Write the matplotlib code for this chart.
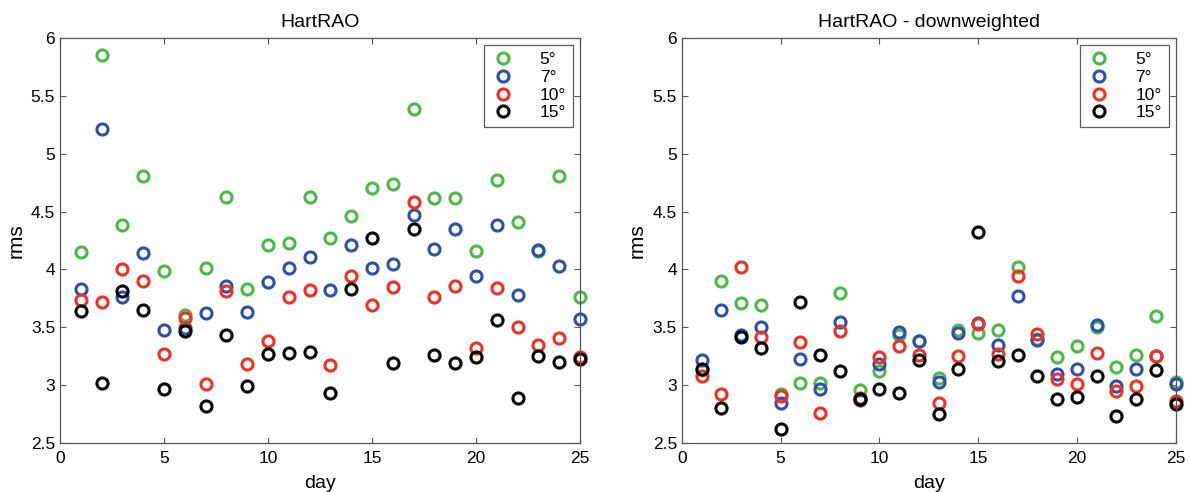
import numpy as np
import matplotlib
matplotlib.use("Agg")
import matplotlib.pyplot as plt
from matplotlib.ticker import FuncFormatter

plt.rcParams['font.family'] = ['Liberation Sans', 'DejaVu Sans']

days = np.arange(1, 26)
labels = ['5°', '7°', '10°', '15°']
colors = ['#4cb848', '#3050a8', '#ee3124', '#000000']

# HartRAO
left_5 = [4.15, 5.85, 4.38, 4.81, 3.99, 3.61, 4.01, 4.63, 3.83, 4.21, 4.23, 4.63, 4.27,
          4.46, 4.70, 4.74, 5.39, 4.62, 4.62, 4.16, 4.77, 4.41, 4.16, 4.81, 3.76]
left_7 = [3.83, 5.21, 3.76, 4.14, 3.48, 3.49, 3.62, 3.86, 3.63, 3.89, 4.01, 4.11, 3.82,
          4.21, 4.01, 4.05, 4.47, 4.18, 4.35, 3.94, 4.38, 3.78, 4.17, 4.03, 3.57]
left_10 = [3.74, 3.72, 4.00, 3.90, 3.27, 3.58, 3.01, 3.81, 3.18, 3.38, 3.76, 3.82, 3.17,
           3.94, 3.69, 3.85, 4.58, 3.76, 3.86, 3.32, 3.84, 3.50, 3.35, 3.41, 3.24]
left_15 = [3.64, 3.02, 3.81, 3.65, 2.97, 3.47, 2.82, 3.43, 2.99, 3.27, 3.28, 3.29, 2.93,
           3.83, 4.27, 3.19, 4.35, 3.26, 3.19, 3.24, 3.56, 2.89, 3.25, 3.20, 3.23]

# HartRAO - downweighted
right_5 = [3.13, 3.90, 3.71, 3.69, 2.92, 3.02, 3.02, 3.80, 2.96, 3.12, 3.43, 3.38, 3.06,
           3.48, 3.45, 3.48, 4.02, 3.40, 3.24, 3.34, 3.50, 3.16, 3.26, 3.60, 3.03]
right_7 = [3.22, 3.65, 3.43, 3.50, 2.85, 3.23, 2.97, 3.55, 2.87, 3.18, 3.46, 3.38, 3.03,
           3.45, 3.54, 3.35, 3.77, 3.39, 3.10, 3.14, 3.52, 2.99, 3.14, 3.25, 3.01]
right_10 = [3.08, 2.92, 4.02, 3.42, 2.91, 3.37, 2.76, 3.47, 2.89, 3.24, 3.34, 3.26, 2.85,
            3.25, 3.53, 3.27, 3.94, 3.44, 3.05, 3.01, 3.28, 2.95, 2.99, 3.25, 2.86]
right_15 = [3.14, 2.80, 3.42, 3.32, 2.62, 3.72, 3.26, 3.12, 2.88, 2.97, 2.93, 3.22, 2.75,
            3.14, 4.32, 3.21, 3.26, 3.08, 2.88, 2.90, 3.08, 2.73, 2.88, 3.13, 2.84]

fig = plt.figure(figsize=(11.9, 4.92), dpi=100)
ax1 = fig.add_axes([0.0504, 0.0996, 0.437, 0.823])
ax2 = fig.add_axes([0.573, 0.0996, 0.415, 0.823])

panels = [(ax1, 'HartRAO', [left_5, left_7, left_10, left_15]),
          (ax2, 'HartRAO - downweighted', [right_5, right_7, right_10, right_15])]

for ax, title, series in panels:
    for vals, c, lab in zip(series, colors, labels):
        ax.plot(days, vals, 'o', mfc='none', mec=c, mew=2.2, ms=8, label=lab, clip_on=False)
    ax.set_xlim(0, 25)
    ax.set_ylim(2.5, 6)
    ax.set_xticks(np.arange(0, 26, 5))
    ax.set_yticks(np.arange(2.5, 6.01, 0.5))
    ax.yaxis.set_major_formatter(FuncFormatter(lambda v, p: '%g' % v))
    ax.tick_params(direction='in', top=True, right=True, length=4, labelsize=12.5, color='#555555')
    ax.tick_params(axis='x', pad=6)
    for s in ax.spines.values():
        s.set_color('#555555')
        s.set_linewidth(0.9)
    ax.set_title(title, fontsize=14, pad=8)
    ax.set_xlabel('day', fontsize=14, labelpad=6)
    ax.set_ylabel('rms', fontsize=15, labelpad=4)
    leg = ax.legend(loc='upper right', fontsize=12.5, frameon=True, fancybox=False,
                    edgecolor='#333333', handletextpad=1.4, borderpad=0.4,
                    labelspacing=0.15, handlelength=1.4, borderaxespad=0.4)
    leg.get_frame().set_linewidth(0.9)

fig.savefig('out.png', dpi=100)
